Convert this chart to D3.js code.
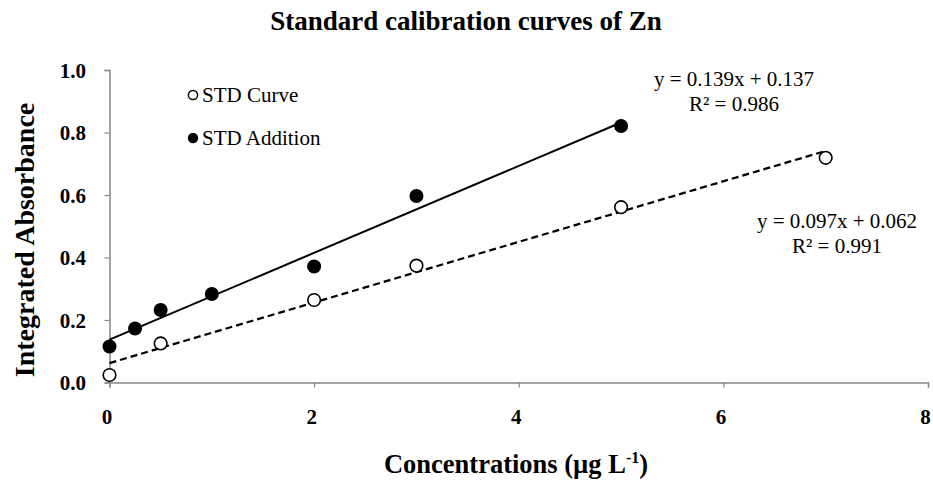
<!DOCTYPE html>
<html><head><meta charset="utf-8">
<script src="https://cdn.jsdelivr.net/npm/d3@7"></script>
<style>body{margin:0;background:#fff}svg{display:block}</style>
</head><body>
<svg id="c" width="933" height="485"></svg>
<script>
const title = "Standard calibration curves of Zn";
const xTicks = [0, 2, 4, 6, 8];
const yTicks = [0, 0.2, 0.4, 0.6, 0.8, 1.0];
const curveX = [0, 0.5, 2, 3, 5, 7];
const curveY = [0.024, 0.125, 0.264, 0.374, 0.561, 0.719];
const addX = [0, 0.25, 0.5, 1, 2, 3, 5];
const addY = [0.115, 0.173, 0.232, 0.283, 0.371, 0.597, 0.821];
const curveFit = {slope: 0.097, intercept: 0.062, r2: 0.991, xmax: 7};
const addFit = {slope: 0.139, intercept: 0.137, r2: 0.986, xmax: 5};

const svg = d3.select("#c");
const serif = "'Liberation Serif','Times New Roman',serif";
const x = d3.scaleLinear().domain([0, 8]).range([109.5, 928]);
const y = d3.scaleLinear().domain([0, 1]).range([382.5, 70]);
const axisColor = "#868686";

// axes
const gx = svg.append("g").attr("transform", `translate(0,${y(0)})`)
  .call(d3.axisBottom(x).tickValues(xTicks).tickSize(5).tickFormat(d3.format("d")));
const gy = svg.append("g").attr("transform", `translate(${x(0)},0)`)
  .call(d3.axisLeft(y).tickValues(yTicks).tickSize(5).tickFormat(d3.format(".1f")));
[gx, gy].forEach(g => {
  g.select(".domain").attr("stroke", axisColor).attr("stroke-width", 1.5);
  g.selectAll(".tick line").attr("stroke", axisColor).attr("stroke-width", 1.2);
  g.selectAll(".tick text").attr("font-family", serif).attr("font-weight", "bold")
    .attr("font-size", 21).attr("fill", "#000");
});
gx.selectAll(".tick text").attr("dy", 0).attr("y", 41.5).attr("dx", -3);
gy.selectAll(".tick text").attr("x", -23.5).attr("dy", "0.35em");

// trend lines
function fitLine(f, dash) {
  svg.append("line")
    .attr("x1", x(0)).attr("y1", y(f.intercept))
    .attr("x2", x(f.xmax)).attr("y2", y(f.intercept + f.slope * f.xmax))
    .attr("stroke", "#000").attr("stroke-width", dash ? 2.3 : 2)
    .attr("stroke-dasharray", dash ? "7,4" : null);
}
fitLine(curveFit, true);
fitLine(addFit, false);

// points
svg.append("g").selectAll("circle").data(addX.map((d, i) => [d, addY[i]])).join("circle")
  .attr("cx", d => x(d[0])).attr("cy", d => y(d[1])).attr("r", 7).attr("fill", "#000");
svg.append("g").selectAll("circle").data(curveX.map((d, i) => [d, curveY[i]])).join("circle")
  .attr("cx", d => x(d[0])).attr("cy", d => y(d[1])).attr("r", 6.3)
  .attr("fill", "#fff").attr("stroke", "#000").attr("stroke-width", 1.6);

// title
svg.append("text").attr("x", 466).attr("y", 30).attr("text-anchor", "middle")
  .attr("font-family", serif).attr("font-weight", "bold").attr("font-size", 27).text(title);

// axis titles
svg.append("text").attr("transform", "translate(34,240) rotate(-90)").attr("text-anchor", "middle")
  .attr("font-family", serif).attr("font-weight", "bold").attr("font-size", 28).text("Integrated Absorbance");
const xt = svg.append("text").attr("x", 516).attr("y", 473).attr("text-anchor", "middle")
  .attr("font-family", serif).attr("font-weight", "bold").attr("font-size", 26.5);
xt.append("tspan").text("Concentrations (µg L");
xt.append("tspan").attr("font-size", 16).attr("dy", -10).text("-1");
xt.append("tspan").attr("dy", 10).text(")");

// legend
const leg = [{label: "STD Curve", filled: false, cy: 95}, {label: "STD Addition", filled: true, cy: 138}];
leg.forEach(l => {
  svg.append("circle").attr("cx", 193).attr("cy", l.cy).attr("r", l.filled ? 5.2 : 4.6)
    .attr("fill", l.filled ? "#000" : "#fff").attr("stroke", "#000").attr("stroke-width", l.filled ? 0 : 1.5);
  svg.append("text").attr("x", 202).attr("y", l.cy + 7).attr("font-family", serif)
    .attr("font-size", 21).text(l.label);
});

// equations
function eq(f, cx, by) {
  svg.append("text").attr("x", cx).attr("y", by).attr("text-anchor", "middle")
    .attr("font-family", serif).attr("font-size", 21)
    .text(`y = ${f.slope.toFixed(3)}x + ${f.intercept.toFixed(3)}`);
  svg.append("text").attr("x", cx).attr("y", by + 25).attr("text-anchor", "middle")
    .attr("font-family", serif).attr("font-size", 21)
    .text(`R² = ${f.r2.toFixed(3)}`);
}
eq(addFit, 734, 86);
eq(curveFit, 837, 228);
</script>
</body></html>
